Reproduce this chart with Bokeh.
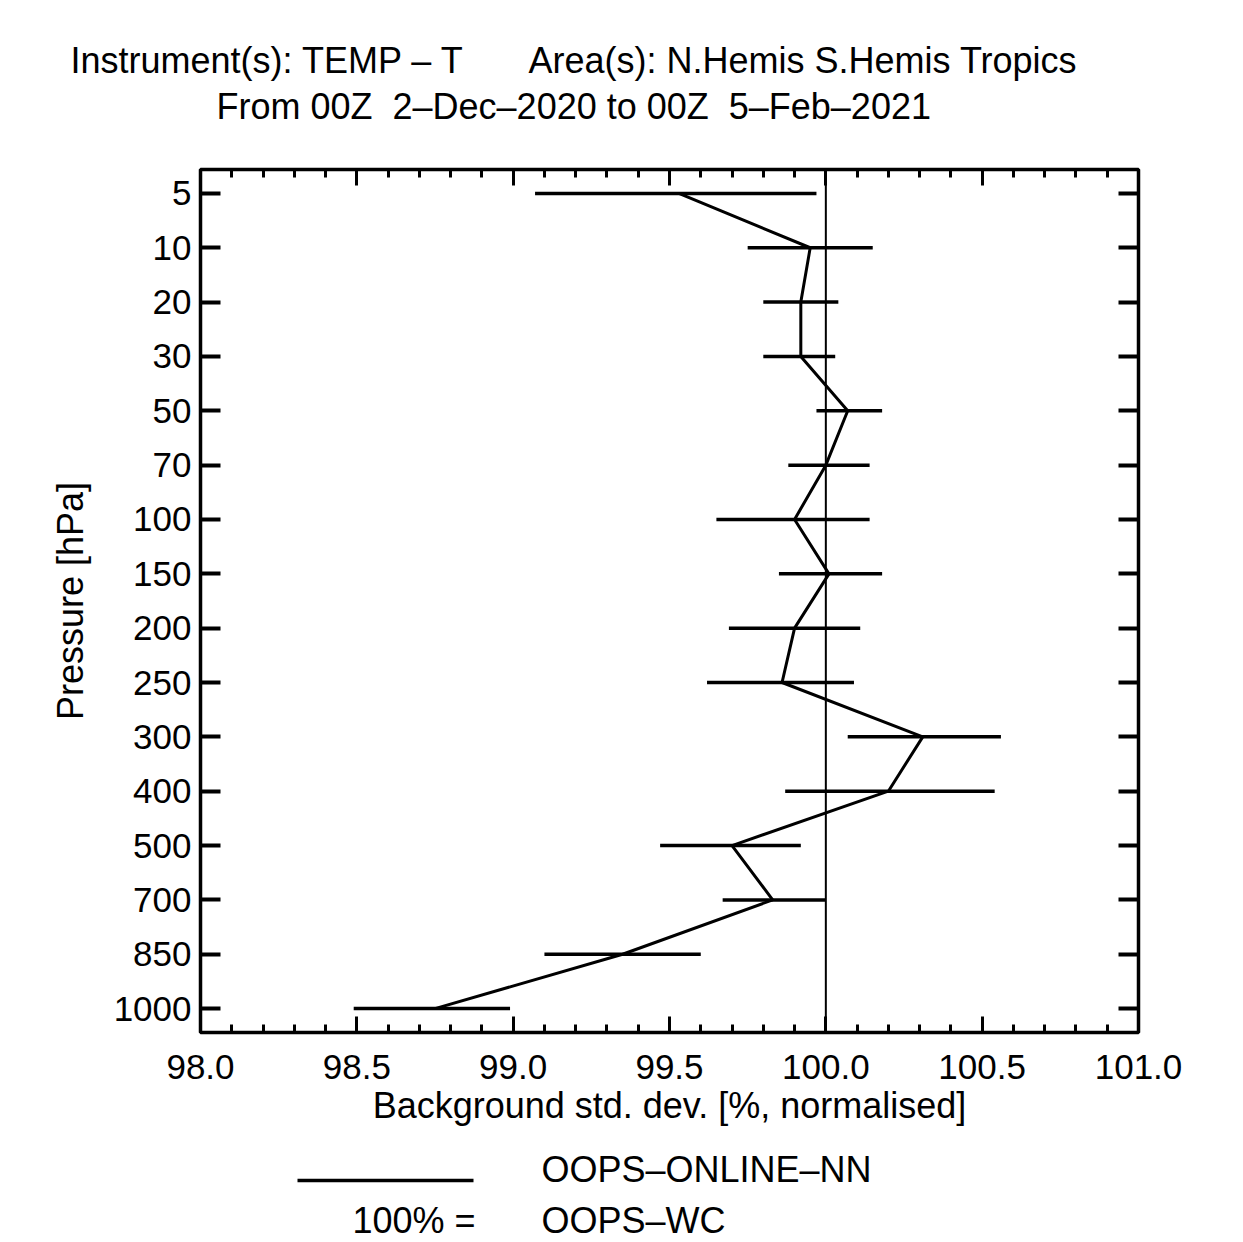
from bokeh.plotting import figure
from bokeh.models import (Range1d, LinearAxis, FixedTicker, Label, Span, ColumnDataSource,
                          NumeralTickFormatter)
from bokeh.embed import file_html
from bokeh.resources import INLINE

levels = ["5", "10", "20", "30", "50", "70", "100", "150", "200", "250",
          "300", "400", "500", "700", "850", "1000"]
values = [99.53, 99.95, 99.92, 99.92, 100.07, 100.00, 99.90, 100.01, 99.90, 99.86,
          100.31, 100.20, 99.70, 99.83, 99.35, 98.75]
err_lo = [99.07, 99.75, 99.80, 99.80, 99.97, 99.88, 99.65, 99.85, 99.69, 99.62,
          100.07, 99.87, 99.47, 99.67, 99.10, 98.49]
err_hi = [99.97, 100.15, 100.04, 100.03, 100.18, 100.14, 100.14, 100.18, 100.11, 100.09,
          100.56, 100.54, 99.92, 100.00, 99.60, 98.99]
x_ticks = [98.0, 98.5, 99.0, 99.5, 100.0, 100.5, 101.0]
reference_value = 100.0

NB = "\u00a0"
title_1a = "Instrument(s): TEMP \u2013 T"
title_1b = "Area(s): N.Hemis S.Hemis Tropics"
title_2 = "From 00Z" + NB + " 2\u2013Dec\u20132020 to 00Z" + NB + " 5\u2013Feb\u20132021"
x_label = "Background std. dev. [%, normalised]"
y_label = "Pressure [hPa]"
series_name = "OOPS\u2013ONLINE\u2013NN"
ref_label = "100% ="
ref_name = "OOPS\u2013WC"

FONT = "Liberation Sans"
FS = "36px"
TICK_FS = "35px"
W = 1240
TOP_H, MAIN_H, BOT_H = 150, 990, 100


def text_panel(height):
    f = figure(width=W, height=height, output_backend="svg", toolbar_location=None,
               x_range=Range1d(0, W), y_range=Range1d(height, 0),
               min_border=0, x_axis_location=None, y_axis_location=None)
    f.grid.visible = False
    f.outline_line_color = None
    return f


def lab(f, text, x, y, align="left"):
    f.add_layout(Label(x=x, y=y, text=text, text_font=FONT, text_font_size=FS,
                       text_align=align, text_baseline="middle", text_color="black"))


# ---------- title panel ----------
top = text_panel(TOP_H)
lab(top, title_1a, 70, 60)
lab(top, title_1b, 528, 60)
lab(top, title_2, 216, 106)

# ---------- main plot ----------
idx = list(range(len(levels)))
src = ColumnDataSource(dict(y=idx, x=values, lo=err_lo, hi=err_hi))

p = figure(width=W, height=MAIN_H, output_backend="svg", toolbar_location=None,
           x_range=Range1d(98.0, 101.0), y_range=Range1d(15.44, -0.44),
           min_border_left=200, min_border_right=W - 1138, min_border_top=169 - TOP_H,
           min_border_bottom=TOP_H + MAIN_H - 1032,
           x_axis_location=None, y_axis_location=None)
p.grid.visible = False
p.outline_line_color = "black"
p.outline_line_width = 3.5


def make_x_axis(labels):
    ax = LinearAxis(ticker=FixedTicker(ticks=x_ticks,
                                       minor_ticks=[round(98 + 0.1 * k, 1) for k in range(31)]))
    ax.formatter = NumeralTickFormatter(format="0.0")
    ax.major_tick_in = 16
    ax.major_tick_out = 0
    ax.minor_tick_in = 8
    ax.minor_tick_out = 0
    ax.major_tick_line_width = 3
    ax.minor_tick_line_width = 3
    ax.axis_line_color = None
    ax.major_label_text_font = FONT
    ax.major_label_text_font_size = TICK_FS
    ax.major_label_text_color = "black"
    ax.major_label_standoff = 22
    if labels:
        ax.axis_label = x_label
        ax.axis_label_text_font = FONT
        ax.axis_label_text_font_size = FS
        ax.axis_label_text_font_style = "normal"
        ax.axis_label_text_color = "black"
        ax.axis_label_standoff = 3
    else:
        ax.major_label_text_font_size = "0px"
        ax.major_label_text_alpha = 0
    return ax


def make_y_axis(labels):
    ax = LinearAxis(ticker=FixedTicker(ticks=idx, minor_ticks=[]))
    ax.major_label_overrides = {i: levels[i] for i in idx}
    ax.major_tick_in = 20
    ax.major_tick_out = 0
    ax.major_tick_line_width = 4
    ax.axis_line_color = None
    ax.major_label_text_font = FONT
    ax.major_label_text_font_size = TICK_FS
    ax.major_label_text_color = "black"
    ax.major_label_standoff = 9
    if labels:
        ax.axis_label = y_label
        ax.axis_label_text_font = FONT
        ax.axis_label_text_font_size = FS
        ax.axis_label_text_font_style = "normal"
        ax.axis_label_text_color = "black"
        ax.axis_label_standoff = 20
    else:
        ax.major_label_text_font_size = "0px"
        ax.major_label_text_alpha = 0
    return ax


p.add_layout(make_x_axis(True), "below")
p.add_layout(make_x_axis(False), "above")
p.add_layout(make_y_axis(True), "left")
p.add_layout(make_y_axis(False), "right")

p.add_layout(Span(location=reference_value, dimension="height",
                  line_color="black", line_width=2))
p.segment(x0="lo", x1="hi", y0="y", y1="y", source=src, line_color="black", line_width=3.5)
p.line(x="x", y="y", source=src, line_color="black", line_width=3)

# ---------- legend panel ----------
y0 = TOP_H + MAIN_H
bot = text_panel(BOT_H)
bot.segment(x0=[297], x1=[473], y0=[1180 - y0], y1=[1180 - y0],
            line_color="black", line_width=3.5)
lab(bot, series_name, 541, 1169 - y0)
lab(bot, ref_label, 475, 1220 - y0, align="right")
lab(bot, ref_name, 541, 1220 - y0)

open("out.html", "w").write(file_html([top, p, bot], INLINE))
